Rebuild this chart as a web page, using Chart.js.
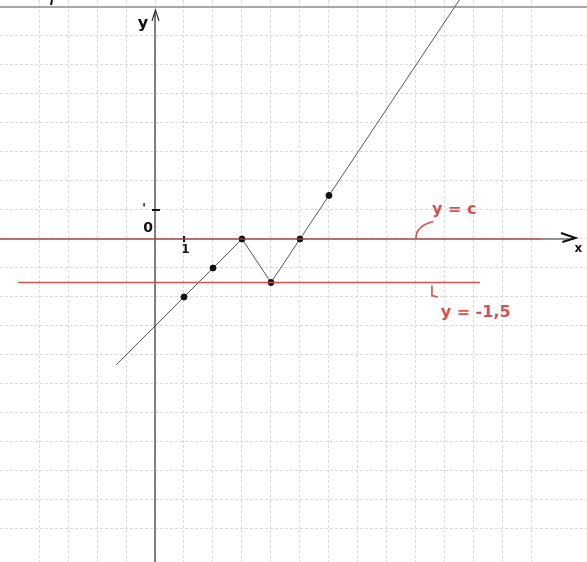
<!DOCTYPE html>
<html>
<head>
<meta charset="utf-8">
<script src="https://cdn.jsdelivr.net/npm/chart.js@4/dist/chart.umd.min.js"></script>
<style>
  html, body { margin: 0; padding: 0; background: #fff; }
  canvas { display: block; }
</style>
</head>
<body>
<canvas id="graph" width="587" height="562"></canvas>
<script>
// piecewise function (1 square = 1 unit)
const pointX = [-1.34, 1, 2, 3, 4, 5, 6, 10.5];
const pointY = [-4.34, -2, -1, 0, -1.5, 0, 1.5, 8.25];
const dotted = [false, true, true, true, true, true, true, false];

// horizontal reference lines
const lineC = { y: 0, from: -5.35, to: 13.38 };
const lineLow = { y: -1.5, from: -4.72, to: 11.2 };

// visible window of the paper
const xRange = [-5.345, 14.897];
const yRange = [-11.138, 8.241];

const red = "#d6504f";
const ink = "#111";

const fnData = pointX.map((x, i) => ({ x, y: pointY[i] }));

const paper = {
  id: "paper",
  beforeDatasetsDraw(chart) {
    const { ctx } = chart;
    const px = (v) => chart.scales.x.getPixelForValue(v);
    const py = (v) => chart.scales.y.getPixelForValue(v);
    ctx.save();
    // solid line along the top of the sheet
    ctx.strokeStyle = "#8a8a8a";
    ctx.lineWidth = 1.3;
    ctx.beginPath();
    ctx.moveTo(0, py(8));
    ctx.lineTo(chart.width, py(8));
    ctx.stroke();

    ctx.strokeStyle = "#333";
    ctx.lineWidth = 1.2;
    // y axis + arrow
    ctx.beginPath();
    ctx.moveTo(px(0), chart.height);
    ctx.lineTo(px(0), 11);
    ctx.moveTo(px(0) - 3, 21);
    ctx.lineTo(px(0) + 0.5, 10);
    ctx.lineTo(px(0) + 4, 21);
    ctx.stroke();
    // x axis + arrow
    ctx.beginPath();
    ctx.moveTo(0, py(0));
    ctx.lineTo(px(14.45), py(0));
    ctx.stroke();
    ctx.lineWidth = 2;
    ctx.strokeStyle = ink;
    ctx.beginPath();
    ctx.moveTo(px(14.0), py(0) - 6);
    ctx.lineTo(px(14.5), py(0) - 1);
    ctx.lineTo(px(14.05), py(0) + 3);
    ctx.stroke();

    // unit ticks
    ctx.lineWidth = 2;
    ctx.beginPath();
    ctx.moveTo(px(0) - 3, py(1));
    ctx.lineTo(px(0) + 5, py(1));
    ctx.moveTo(px(1), py(0) - 3);
    ctx.lineTo(px(1), py(0) + 3);
    ctx.stroke();
    // stray pen mark at the top-left edge
    ctx.beginPath();
    ctx.moveTo(52, 0);
    ctx.lineTo(51, 5);
    ctx.stroke();
    ctx.restore();
  },
  afterDatasetsDraw(chart) {
    const { ctx } = chart;
    const px = (v) => chart.scales.x.getPixelForValue(v);
    const py = (v) => chart.scales.y.getPixelForValue(v);
    ctx.save();
    ctx.fillStyle = ink;
    ctx.textAlign = "center";
    ctx.textBaseline = "middle";
    ctx.font = "bold 16px 'DejaVu Sans'";
    ctx.fillText("y", px(0) - 12, 24);
    ctx.font = "bold 14px 'DejaVu Sans'";
    ctx.fillText("0", px(0) - 7, py(0.38));
    ctx.font = "bold 12px 'DejaVu Sans'";
    ctx.fillText("x", px(14.6), py(0) + 10);
    ctx.fillText("1", px(1.05), py(0) + 11);
    ctx.fillText("'", px(0) - 11, py(1.05));

    ctx.fillStyle = red;
    ctx.strokeStyle = red;
    ctx.font = "bold 16px 'DejaVu Sans'";
    ctx.textAlign = "left";
    ctx.fillText("y = c", px(9.55), py(1.0));
    ctx.fillText("y = -1,5", px(9.85), py(-2.55));
    ctx.lineWidth = 1.6;
    ctx.beginPath();
    ctx.moveTo(px(9.0), py(0) - 1);
    ctx.quadraticCurveTo(px(9.0), py(0.45), px(9.6), py(0.6));
    ctx.moveTo(px(9.55), py(-1.6));
    ctx.lineTo(px(9.55), py(-1.95));
    ctx.lineTo(px(9.75), py(-2.0));
    ctx.stroke();
    ctx.restore();
  }
};

new Chart(document.getElementById("graph"), {
  type: "scatter",
  data: {
    datasets: [
      {
        label: "y = c",
        data: [{ x: lineC.from, y: lineC.y }, { x: lineC.to, y: lineC.y }],
        showLine: true,
        borderColor: red,
        borderWidth: 1.2,
        pointRadius: 0
      },
      {
        label: "y = -1,5",
        data: [{ x: lineLow.from, y: lineLow.y }, { x: lineLow.to, y: lineLow.y }],
        showLine: true,
        borderColor: red,
        borderWidth: 1.4,
        pointRadius: 0
      },
      {
        label: "f",
        data: fnData,
        showLine: true,
        borderColor: "#555",
        borderWidth: 1,
        pointRadius: dotted.map((d) => (d ? 3 : 0)),
        pointBackgroundColor: ink,
        pointBorderColor: ink
      }
    ]
  },
  options: {
    responsive: false,
    animation: false,
    layout: { padding: 0 },
    plugins: { legend: { display: false }, tooltip: { enabled: false } },
    scales: {
      x: {
        type: "linear",
        min: xRange[0],
        max: xRange[1],
        afterBuildTicks: (s) => { s.ticks = s.ticks.filter((t) => Number.isInteger(t.value)); },
        ticks: { display: false, stepSize: 1 },
        grid: { color: "#d9d9d9", lineWidth: 1, drawTicks: false },
        border: { display: false, dash: [3, 2] }
      },
      y: {
        type: "linear",
        min: yRange[0],
        max: yRange[1],
        afterBuildTicks: (s) => { s.ticks = s.ticks.filter((t) => Number.isInteger(t.value)); },
        ticks: { display: false, stepSize: 1 },
        grid: { color: "#d9d9d9", lineWidth: 1, drawTicks: false },
        border: { display: false, dash: [3, 2] }
      }
    }
  },
  plugins: [paper]
});
</script>
</body>
</html>
